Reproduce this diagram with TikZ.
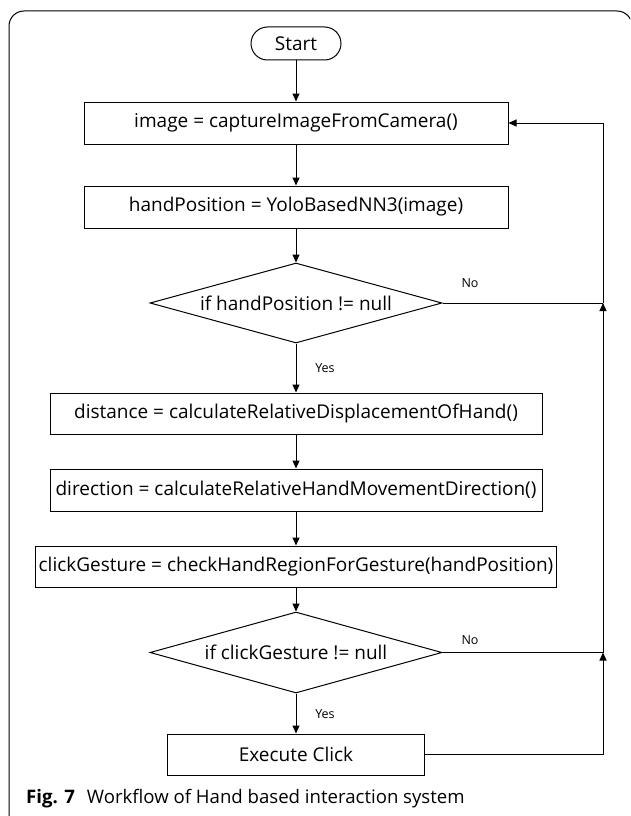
\documentclass[tikz,border=0pt]{standalone}
\usepackage{fontspec}
\setmainfont{Open Sans}
\usepackage{tikz}
\usetikzlibrary{shapes,arrows.meta,positioning}

\begin{document}
\begin{tikzpicture}[
  x=1pt, y=-1pt,
  box/.style={
    rectangle,
    draw=black,
    line width=1pt,
    inner sep=0pt,
    minimum height=41pt,
    text centered,
    font=\fontsize{19}{22}\selectfont
  },
  terminal/.style={
    rounded rectangle,
    draw=black,
    line width=1pt,
    inner sep=0pt,
    minimum width=90pt,
    minimum height=33pt,
    font=\fontsize{19}{22}\selectfont
  },
  decision/.style={
    diamond,
    draw=black,
    line width=1pt,
    inner sep=0pt,
    aspect=3.65,
    minimum width=292pt,
    minimum height=80pt,
    font=\fontsize{19}{22}\selectfont
  },
  answer/.style={
    inner sep=0pt,
    font=\fontsize{12.5}{15}\selectfont
  },
  arrow/.style={
    -{Triangle[length=8pt,width=7pt]},
    line width=1pt
  },
  line/.style={
    line width=1pt
  }
]

  \useasboundingbox (0,0) rectangle (630,816);
  \clip (0,0) rectangle (630,816);

  % Frame
  \draw[line, rounded corners=15pt] (9,11) rectangle (632,832);

  % Start
  \node[terminal] (start) at (296,43.5) {Start};

  % Capture and detection
  \node[box, minimum width=424pt, minimum height=42pt] (capture) at (296,123) {image = captureImageFromCamera()};
  \node[box, minimum width=424pt, minimum height=42pt] (detect) at (296,207) {handPosition = YoloBasedNN3(image)};

  % First check
  \node[decision] (handcheck) at (296,303) {if handPosition != null};

  % Hand movement
  \node[box, minimum width=492pt] (distance) at (296,413.5) {distance = calculateRelativeDisplacementOfHand()};
  \node[box, minimum width=492pt, minimum height=42pt] (direction) at (296,490) {direction = calculateRelativeHandMovementDirection()};
  \node[box, minimum width=521pt] (gesture) at (296,566.5) {clickGesture = checkHandRegionForGesture(handPosition)};

  % Second check
  \node[decision, minimum height=81pt] (clickcheck) at (296,652.5) {if clickGesture != null};

  % Click
  \node[box, minimum width=257pt] (click) at (296,754.5) {Execute Click};

  % Loop back points
  \coordinate (join1) at (603,303);
  \coordinate (join2) at (603,652.5);

  % Answers
  \node[answer] (no1) at (470,283) {No};
  \node[answer] (yes1) at (325,368) {Yes};
  \node[answer] (no2) at (470,640) {No};
  \node[answer] (yes2) at (325,714) {Yes};

  % Caption
  \node[anchor=base west, inner sep=0pt, font=\fontsize{18.6}{21}\selectfont] (caption) at (26,803)
    {\textbf{Fig. 7}\hspace{12pt}Workflow of Hand based interaction system};

  % Arrows - main flow
  \draw[arrow] (start) -- (capture);
  \draw[arrow] (capture) -- (detect);
  \draw[arrow] (detect) -- (handcheck);
  \draw[arrow] (handcheck) -- (distance);
  \draw[arrow] (distance) -- (direction);
  \draw[arrow] (direction) -- (gesture);
  \draw[arrow] (gesture) -- (clickcheck);
  \draw[arrow] (clickcheck) -- (click);

  % Loop back
  \draw[arrow] (click.east) -| (join2);
  \draw[line] (clickcheck.east) -- (join2);
  \draw[arrow] (join2) -- (join1);
  \draw[line] (handcheck.east) -- (join1);
  \draw[arrow] (join1) |- (capture.east);

\end{tikzpicture}
\end{document}
